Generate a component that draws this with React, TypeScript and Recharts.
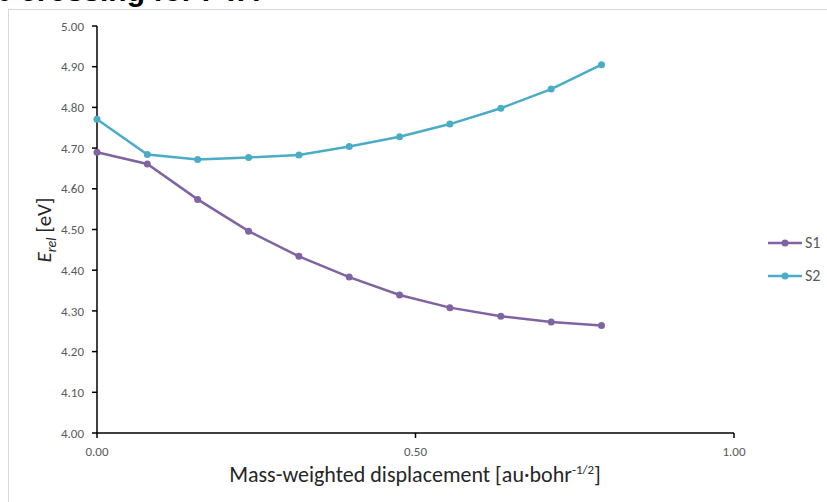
import React from 'react';
import { LineChart, Line, XAxis, YAxis, Legend } from 'recharts';

const xValues = [0, 0.079, 0.158, 0.238, 0.317, 0.396, 0.475, 0.554, 0.634, 0.713, 0.792];
const s1Values = [4.69, 4.661, 4.574, 4.496, 4.434, 4.383, 4.339, 4.308, 4.287, 4.273, 4.264];
const s2Values = [4.771, 4.684, 4.672, 4.677, 4.683, 4.704, 4.728, 4.759, 4.798, 4.845, 4.905];
const xTicks = [0, 0.5, 1];
const yTicks = [4.0, 4.1, 4.2, 4.3, 4.4, 4.5, 4.6, 4.7, 4.8, 4.9, 5.0];
const seriesNames = ['S1', 'S2'];
const seriesColors = ['#8064A2', '#4BACC6'];
const titleText = 'Lb crossing for PTA';

const data = xValues.map((x, i) => ({ x, S1: s1Values[i], S2: s2Values[i] }));

const FONT = 'Carlito, Calibri, Lato, sans-serif';

const renderLegend = () => (
  <div>
    {seriesNames.map((n, i) => (
      <div key={n} style={{ display: 'flex', alignItems: 'center', height: 33 }}>
        <svg width={34} height={10} style={{ display: 'block' }}>
          <line x1={0} y1={5} x2={34} y2={5} stroke={seriesColors[i]} strokeWidth={2.5} />
          <circle cx={17} cy={5} r={3.5} fill={seriesColors[i]} />
        </svg>
        <span style={{ marginLeft: 3, fontSize: 16, color: '#595959', fontFamily: FONT, lineHeight: '16px' }}>{n}</span>
      </div>
    ))}
  </div>
);

const YLabel = () => {
  const cx = 44;
  const cy = 230;
  return (
    <g transform={`translate(${cx}, ${cy}) rotate(-90)`}>
      <text
        x={0}
        y={7}
        textAnchor="middle"
        fontSize={21}
        fill="#262626"
        fontFamily={FONT}
      >
        <tspan fontStyle="italic">E</tspan>
        <tspan fontStyle="italic" fontSize={14} dy={5}>rel</tspan>
        <tspan dy={-5}> [eV]</tspan>
      </text>
    </g>
  );
};

const XLabel = () => {
  const cx = 415;
  const y = 482;
  return (
    <text x={cx} y={y} textAnchor="middle" fontSize={22} fill="#262626" fontFamily={FONT}>
      Mass-weighted displacement [au·bohr
      <tspan fontSize={13} dy={-8}>-1/2</tspan>
      <tspan dy={8}>]</tspan>
    </text>
  );
};

export default function App() {
  return (
    <div style={{ position: 'absolute', left: 0, top: 0, width: 827, height: 502, overflow: 'hidden', background: '#fff' }}>
      <div
        style={{
          position: 'absolute',
          left: 8,
          top: 9,
          width: 900,
          height: 600,
          borderLeft: '1px solid #D9D9D9',
          borderTop: '1px solid #D9D9D9',
        }}
      />
      <div
        style={{
          position: 'absolute',
          left: -25,
          top: -24,
          fontFamily: '"Liberation Sans", Arial, sans-serif',
          fontWeight: 'bold',
          fontSize: 30,
          lineHeight: '30px',
          whiteSpace: 'nowrap',
          color: '#000',
        }}
      >
        {titleText}
      </div>
      <div style={{ position: 'absolute', left: 0, top: 0 }}>
        <LineChart width={827} height={502} data={data} margin={{ top: 26, right: 33, bottom: 29, left: 37 }}>
          <XAxis
            dataKey="x"
            type="number"
            domain={[0, 1]}
            ticks={xTicks}
            interval={0}
            tickFormatter={(v: number) => v.toFixed(2)}
            tickSize={5}
            tickMargin={9}
            height={40}
            axisLine={{ stroke: '#000', strokeWidth: 1.5 }}
            tickLine={{ stroke: '#000', strokeWidth: 1.5 }}
            tick={{ fontSize: 13, fill: '#595959', fontFamily: FONT }}
            label={<XLabel />}
          />
          <XAxis
            xAxisId="top"
            orientation="top"
            dataKey="x"
            type="number"
            domain={[0, 1]}
            height={0}
            tick={false}
            tickLine={false}
            axisLine={{ stroke: '#000', strokeWidth: 1.5 }}
          />
          <YAxis
            type="number"
            domain={[4, 5]}
            ticks={yTicks}
            interval={0}
            tickFormatter={(v: number) => v.toFixed(2)}
            tickSize={5}
            tickMargin={8}
            width={60}
            axisLine={{ stroke: '#000', strokeWidth: 1.5 }}
            tickLine={{ stroke: '#000', strokeWidth: 1.5 }}
            tick={{ fontSize: 13, fill: '#595959', fontFamily: FONT }}
            label={<YLabel />}
          />
          <YAxis
            yAxisId="right"
            orientation="right"
            type="number"
            domain={[4, 5]}
            width={0}
            tick={false}
            tickLine={false}
            axisLine={{ stroke: '#000', strokeWidth: 1.5 }}
          />
          <Legend
            layout="vertical"
            align="right"
            verticalAlign="middle"
            content={renderLegend}
            wrapperStyle={{ left: 768, top: 226, width: 60 }}
          />
          {seriesNames.map((n, i) => (
            <Line
              key={n}
              dataKey={n}
              type="linear"
              stroke={seriesColors[i]}
              strokeWidth={2.5}
              dot={{ r: 3.5, fill: seriesColors[i], stroke: seriesColors[i], strokeWidth: 0 }}
              activeDot={false}
              isAnimationActive={false}
            />
          ))}
        </LineChart>
      </div>
    </div>
  );
}
